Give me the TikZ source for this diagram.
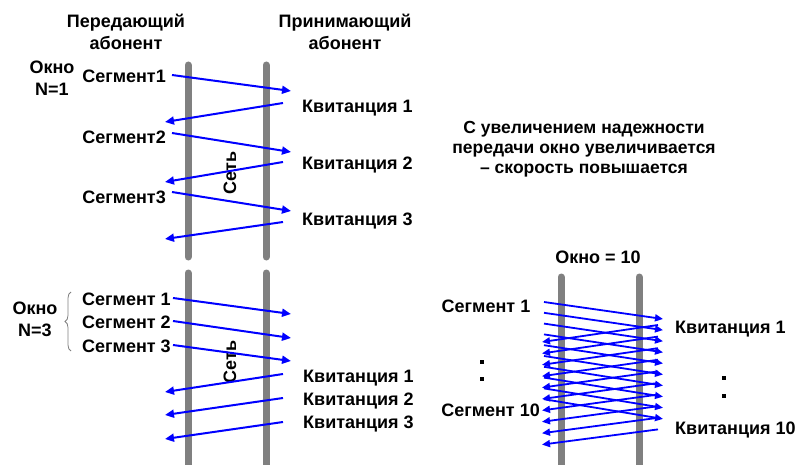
\documentclass[tikz,border=0pt]{standalone}
\usepackage{fontspec}
\setmainfont{Liberation Sans}
\usetikzlibrary{arrows.meta,decorations.pathreplacing}
\definecolor{bargray}{RGB}{128,128,128}
\definecolor{msgblue}{RGB}{0,0,255}
\begin{document}
\begin{tikzpicture}[x=1pt,y=-1pt,
  lbl/.style={font=\fontsize{18}{22}\selectfont\bfseries, inner sep=0pt, align=center},
  bar/.style={line width=7pt, draw=bargray, line cap=round},
  msg/.style={draw=msgblue, line width=2pt, -{Triangle[length=9pt,width=8pt]}},
  msgs/.style={draw=msgblue, line width=1.8pt, -{Triangle[length=8pt,width=7pt]}},
  sq/.style={fill=black, minimum size=4pt, inner sep=0pt, draw=none}]
\useasboundingbox (0,0) rectangle (811,465);

% ---------- top-left panel ----------
\draw[bar] (188,65) -- (188,257);
\draw[bar] (266,65) -- (266,257);
\node[lbl] (h1) at (126,32) {Передающий\\абонент};
\node[lbl] (h2) at (345,32) {Принимающий\\абонент};
\node[lbl] (w1) at (52,78) {Окно\\N=1};
\node[lbl, anchor=east] (s1) at (166,76) {Сегмент1};
\node[lbl, anchor=east] (s2) at (166,137) {Сегмент2};
\node[lbl, anchor=east] (s3) at (166,197) {Сегмент3};
\node[lbl, anchor=west] (k1) at (302,108) {Квитанция 1};
\node[lbl, anchor=west] (k2) at (302,165) {Квитанция 2};
\node[lbl, anchor=west] (k3) at (302,221) {Квитанция 3};
\node[lbl, rotate=90] (net1) at (230,173) {Сеть};
\coordinate (s1a) at (172,75);  \coordinate (s1b) at (291,91);
\coordinate (k1a) at (283,103); \coordinate (k1b) at (165,122);
\coordinate (s2a) at (172,133); \coordinate (s2b) at (291,152);
\coordinate (k2a) at (283,162); \coordinate (k2b) at (165,182);
\coordinate (s3a) at (172,192); \coordinate (s3b) at (291,211);
\coordinate (k3a) at (283,222); \coordinate (k3b) at (165,239);
\foreach \a/\b in {s1a/s1b,k1a/k1b,s2a/s2b,k2a/k2b,s3a/s3b,k3a/k3b}
  \draw[msg] (\a) -- (\b);

% ---------- bottom-left panel ----------
\draw[bar] (188,273) -- (188,475);
\draw[bar] (266,273) -- (266,475);
\node[lbl] (w3) at (35,319) {Окно\\N=3};
\draw[bargray, line width=0.8pt, decorate,
  decoration={brace, amplitude=6pt}] (71,351) -- (71,292);
\node[lbl, anchor=west] (t1) at (82,299) {Сегмент 1};
\node[lbl, anchor=west] (t2) at (82,322) {Сегмент 2};
\node[lbl, anchor=west] (t3) at (82,346) {Сегмент 3};
\node[lbl, anchor=west] (q1) at (303,378) {Квитанция 1};
\node[lbl, anchor=west] (q2) at (303,401) {Квитанция 2};
\node[lbl, anchor=west] (q3) at (303,424) {Квитанция 3};
\node[lbl, rotate=90] (net2) at (230,362) {Сеть};
\coordinate (t1a) at (173,298); \coordinate (t1b) at (291,314);
\coordinate (t2a) at (173,321); \coordinate (t2b) at (291,338);
\coordinate (t3a) at (173,345); \coordinate (t3b) at (291,361);
\coordinate (q1a) at (283,374); \coordinate (q1b) at (165,392);
\coordinate (q2a) at (283,398); \coordinate (q2b) at (165,415);
\coordinate (q3a) at (283,422); \coordinate (q3b) at (165,439);
\foreach \a/\b in {t1a/t1b,t2a/t2b,t3a/t3b,q1a/q1b,q2a/q2b,q3a/q3b}
  \draw[msg] (\a) -- (\b);

% ---------- right text ----------
\node[lbl, font=\fontsize{17.5}{20}\selectfont\bfseries] (note) at (584,149)
  {С увеличением надежности\\передачи окно увеличивается\\– скорость повышается};

% ---------- right panel ----------
\node[lbl] (w10) at (598,257) {Окно = 10};
\draw[bar] (561,277) -- (561,475);
\draw[bar] (639,277) -- (639,475);
\node[lbl] (r1) at (486,306) {Сегмент 1};
\node[lbl, anchor=east] (r10) at (540,410) {Сегмент 10};
\node[lbl, anchor=west] (c1) at (675,329) {Квитанция 1};
\node[lbl, anchor=west] (c10) at (675,430) {Квитанция 10};
\node[sq] (d1) at (482,362) {};
\node[sq] (d2) at (482,379) {};
\node[sq] (d3) at (724,378) {};
\node[sq] (d4) at (724,396) {};
\foreach \i in {0,...,9} {
  \coordinate (ga\i) at (544,{302+10.8*\i});
  \coordinate (gb\i) at (663,{319+11.1*\i});
  \coordinate (ca\i) at (658,{325+11.6*\i});
  \coordinate (cb\i) at (542,{342+11.4*\i});
  \draw[msgs] (ga\i) -- (gb\i);
  \draw[msgs] (ca\i) -- (cb\i);
}
\end{tikzpicture}
\end{document}
